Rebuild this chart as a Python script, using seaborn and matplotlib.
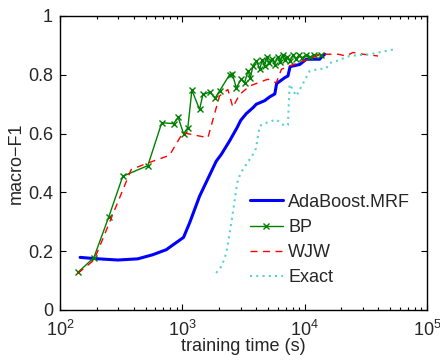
import matplotlib as mpl
mpl.use('Agg')
import numpy as np
import pandas as pd
import seaborn as sns
import matplotlib.pyplot as plt
from matplotlib.ticker import LogLocator, FixedLocator

sns.set_style("ticks")
plt.rcParams['font.family'] = ['Liberation Sans', 'DejaVu Sans']
plt.rcParams['mathtext.default'] = 'regular'

# AdaBoost.MRF
ada_t = [146, 190, 297, 432, 573, 738, 1023, 1146, 1383, 1892, 2080, 2433, 2800,
         3000, 3333, 3777, 4026, 4710, 5180, 5700, 5900, 6860, 7300, 7600, 9100,
         10330, 13280, 13700, 14600]
ada_f = [0.179, 0.175, 0.170, 0.174, 0.188, 0.205, 0.247, 0.296, 0.387, 0.506,
         0.529, 0.575, 0.620, 0.645, 0.668, 0.688, 0.700, 0.712, 0.725, 0.735,
         0.770, 0.790, 0.796, 0.828, 0.835, 0.853, 0.853, 0.860, 0.870]

# BP
bp_t = [140, 189, 250, 326, 522, 679, 847, 925, 1023, 1109, 1197, 1383, 1472,
        1671, 1859, 2015, 2433, 2560, 2760, 3034, 3228, 3437, 3600, 3777, 4026,
        4300, 4500, 4700, 4900, 5100, 5400, 5700, 6000, 6300, 6600, 6900, 7200,
        7600, 8000, 8500, 9000, 9500, 10200, 11000, 12000, 13700]
bp_f = [0.128, 0.178, 0.316, 0.455, 0.491, 0.637, 0.634, 0.655, 0.600, 0.620,
        0.748, 0.682, 0.733, 0.741, 0.722, 0.745, 0.800, 0.804, 0.756, 0.785,
        0.773, 0.813, 0.790, 0.830, 0.847, 0.820, 0.850, 0.830, 0.860, 0.840,
        0.855, 0.835, 0.862, 0.845, 0.866, 0.850, 0.862, 0.848, 0.866, 0.855,
        0.867, 0.858, 0.866, 0.860, 0.868, 0.868]

# WJW
wjw_t = [140, 190, 382, 523, 785, 1010, 1618, 2014, 2355, 2588, 2940, 3550,
         5000, 5860, 6460, 8280, 13700, 18700, 21900, 24800, 30000, 39800]
wjw_f = [0.125, 0.170, 0.478, 0.500, 0.526, 0.603, 0.586, 0.728, 0.750, 0.690,
         0.733, 0.762, 0.785, 0.773, 0.819, 0.836, 0.870, 0.870, 0.864, 0.876,
         0.870, 0.864]

# Exact
ex_t = [1890, 2100, 2290, 2513, 2760, 2843, 3125, 3777, 4000, 4290, 4710, 5860,
        6860, 7300, 7530, 8550, 11000, 12850, 15000, 16000, 18200, 23300, 34000,
        54400]
ex_f = [0.126, 0.150, 0.194, 0.296, 0.410, 0.444, 0.478, 0.529, 0.550, 0.626,
        0.635, 0.648, 0.626, 0.630, 0.768, 0.728, 0.813, 0.819, 0.822, 0.840,
        0.847, 0.864, 0.870, 0.887]

fig = plt.figure(figsize=(4.4, 3.6), dpi=100)
ax = fig.add_axes([60 / 440, 1 - 310 / 360, 367 / 440, 294 / 360])

kw = dict(ax=ax, sort=False, estimator=None)
sns.lineplot(x=ada_t, y=ada_f, color='#0000ff', lw=2.2, label='AdaBoost.MRF', **kw)
sns.lineplot(x=bp_t, y=bp_f, color='#008000', lw=1, marker='x', markersize=4.5,
             markeredgewidth=1, markeredgecolor='#008000', label='BP', **kw)
sns.lineplot(x=wjw_t, y=wjw_f, color='#ff0000', lw=1, dashes=False,
             linestyle=(0, (5, 4)), label='WJW', **kw)
sns.lineplot(x=ex_t, y=ex_f, color='#5ad2d2', lw=1.5, linestyle=(0, (1, 2)),
             label='Exact', **kw)

ax.set_xscale('log')
ax.set_xlim(1e2, 1e5)
ax.set_ylim(0, 1)
ax.yaxis.set_major_locator(FixedLocator([0, 0.2, 0.4, 0.6, 0.8, 1]))
ax.set_yticklabels(['0', '0.2', '0.4', '0.6', '0.8', '1'])
ax.xaxis.set_major_locator(LogLocator(base=10, numticks=10))
ax.xaxis.set_minor_locator(LogLocator(base=10, subs=np.arange(2, 10), numticks=10))
ax.tick_params(which='both', direction='in', top=True, right=True,
               labelsize=13, color='black', width=0.8)
ax.tick_params(which='major', length=4)
ax.tick_params(axis='y', which='major', pad=5)
ax.tick_params(axis='x', which='major', pad=7)
ax.tick_params(which='minor', length=2)
for s in ax.spines.values():
    s.set_linewidth(1.0)
    s.set_color('black')

ax.set_xlabel('training time (s)', fontsize=13, labelpad=-1)
ax.set_ylabel('macro\u2212F1', fontsize=13, labelpad=2)

ax.legend(loc='center', bbox_to_anchor=(330 / 440, 1 - 240 / 360),
          bbox_transform=fig.transFigure, frameon=False, fontsize=13,
          handlelength=1.85, handletextpad=0.3, labelspacing=0.45,
          borderpad=0.2)

fig.savefig('out.png', dpi=100)
